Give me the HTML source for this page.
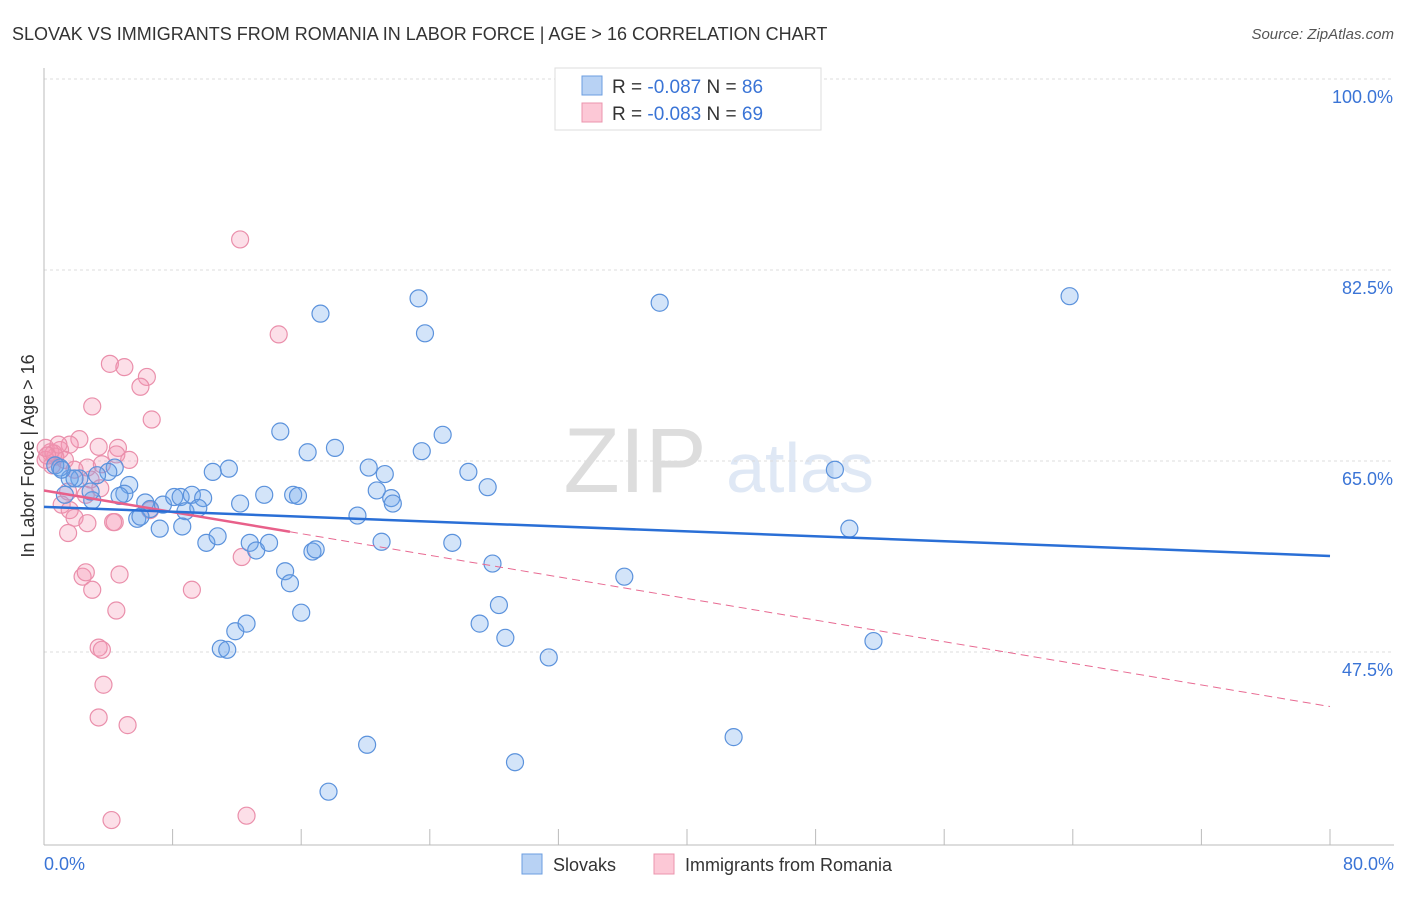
<!DOCTYPE html>
<html><head><meta charset="utf-8"><style>
body{margin:0;background:#fff;font-family:"Liberation Sans",sans-serif}
svg text{font-family:"Liberation Sans",sans-serif}
</style></head><body>
<svg id="c" width="1406" height="892" xmlns="http://www.w3.org/2000/svg">
<text x="12" y="40" font-size="18" fill="#333">SLOVAK VS IMMIGRANTS FROM ROMANIA IN LABOR FORCE | AGE &gt; 16 CORRELATION CHART</text>
<text x="1394" y="39" font-size="15" fill="#555" font-style="italic" text-anchor="end">Source: ZipAtlas.com</text>
<text x="635" y="492" font-size="92" fill="#ddd" font-family="Liberation Serif" text-anchor="middle">ZIP</text>
<text x="800" y="492" font-size="70" fill="#dfe8f5" text-anchor="middle">atlas</text>
<g id="grid"></g><g id="axes"></g><g id="marks"></g>
<text transform="translate(34,456) rotate(-90)" font-size="18" fill="#333" text-anchor="middle">In Labor Force | Age &gt; 16</text>
<text x="44" y="870" font-size="18" fill="#3a74d6">0.0%</text>
<text x="1394" y="870" font-size="18" fill="#3a74d6" text-anchor="end">80.0%</text>
<g>
<rect x="555" y="68" width="266" height="62" fill="#fff" stroke="#ddd"/>
<rect x="582" y="76" width="20" height="19" fill="#b8d2f4" stroke="#6b9ee0"/>
<rect x="582" y="103" width="20" height="19" fill="#fcc8d6" stroke="#eb94ad"/>
<text x="612" y="93" font-size="19" fill="#333">R = <tspan fill="#3a74d6">-0.087</tspan>   N = <tspan fill="#3a74d6">86</tspan></text>
<text x="612" y="120" font-size="19" fill="#333">R = <tspan fill="#3a74d6">-0.083</tspan>   N = <tspan fill="#3a74d6">69</tspan></text>
</g>
<g>
<rect x="522" y="854" width="20" height="20" fill="#b8d2f4" stroke="#6b9ee0"/>
<text x="553" y="871" font-size="18" fill="#333">Slovaks</text>
<rect x="654" y="854" width="20" height="20" fill="#fcc8d6" stroke="#eb94ad"/>
<text x="685" y="871" font-size="18" fill="#333">Immigrants from Romania</text>
</g>
</svg>
<script>
const yTicks=[100,82.5,65,47.5];
const yTickLabels=["100.0%","82.5%","65.0%","47.5%"];
const xTicks=[0,8,16,24,32,40,48,56,64,72,80];
const blueX=[63.8,38.3,23.3,17.2,23.7,14.7,18.1,16.4,23.5,24.8,20.2,21.2,26.4,27.6,11.5,10.5,49.2,4.4,4.0,3.3,2.2,1.6,1.0,0.7,5.3,5.0,4.7,3.0,2.9,6.3,6.6,7.4,8.1,8.5,9.2,9.9,8.8,9.6,12.2,13.7,15.5,15.8,20.7,21.6,21.7,7.2,8.6,5.8,6.0,19.5,10.1,10.8,12.8,13.2,14.0,16.7,16.9,21.0,25.4,50.1,27.9,36.1,15.0,15.3,16.0,28.3,27.1,28.7,11.9,12.6,11.0,11.4,31.4,51.6,42.9,20.1,29.3,17.7,1.3,1.9,1.1];
const blueY=[80.1,79.5,79.9,78.5,76.7,67.7,66.2,65.8,65.9,67.4,64.4,63.8,64.0,62.6,64.3,64.0,64.2,64.4,64.0,63.7,63.4,63.4,64.4,64.6,62.8,62.0,61.8,61.4,62.2,61.2,60.6,61.0,61.7,61.7,61.9,61.6,60.4,60.7,61.1,61.9,61.9,61.8,62.3,61.6,61.1,58.8,59.0,59.7,59.9,60.0,57.5,58.1,57.5,56.8,57.5,56.7,56.9,57.6,57.5,58.8,55.6,54.4,54.9,53.8,51.1,51.8,50.1,48.8,49.4,50.1,47.8,47.7,47.0,48.5,39.7,39.0,37.4,34.7,61.9,63.4,64.2];
const pinkX=[12.2,14.6,4.1,5.0,6.4,6.0,3.0,6.7,2.2,4.6,4.5,3.4,1.6,1.0,0.4,0.7,0.1,0.5,1.3,2.7,1.9,2.9,3.5,1.5,2.6,1.1,1.6,1.9,1.5,4.4,6.6,3.6,5.3,2.4,2.6,3.0,4.7,4.5,9.2,12.3,2.7,4.3,3.4,3.6,3.7,3.4,5.2,4.2,12.6,0.6,0.1,0.9,0.2];
const pinkY=[85.3,76.6,73.9,73.6,72.7,71.8,70.0,68.8,67.0,66.2,65.6,66.3,66.5,66.0,65.8,65.4,65.1,64.6,65.1,64.4,64.2,63.3,62.5,62.2,61.9,61.0,60.5,59.8,58.4,59.4,60.5,64.7,65.1,54.4,54.8,53.2,54.6,51.3,53.2,56.2,59.3,59.4,47.9,47.7,44.5,41.5,40.8,32.1,32.5,65.7,66.2,66.5,65.5];
const blueTrend=[60.8,56.3];
const pinkTrend=[62.3,42.5];
const pinkSolidEnd=15.3;
const NS="http://www.w3.org/2000/svg";
const X=v=>44+v*16.075, Y=v=>79+(100-v)*10.914;
function mk(t,a,p){const e=document.createElementNS(NS,t);for(const k in a)e.setAttribute(k,a[k]);document.getElementById(p).appendChild(e);return e;}
yTicks.forEach((t,i)=>{
 const l=mk('line',{x1:44,x2:1394,y1:Y(t),y2:Y(t),stroke:'#ddd','stroke-dasharray':'3,3'},'grid');
 
 
 const tx=mk('text',{x:1393,y:Y(t)+24,'font-size':18,fill:'#3a74d6','text-anchor':'end'},'grid');
 tx.textContent=yTickLabels[i];
 
 
});
const ax=mk('line',{x1:44,x2:44,y1:68,y2:845,stroke:'#bbb'},'axes');


const bx=mk('line',{x1:44,x2:1394,y1:845,y2:845,stroke:'#bbb'},'axes');


xTicks.forEach(t=>{
 const l=mk('line',{x1:X(t),x2:X(t),y1:829,y2:845,stroke:'#bbb'},'axes');
 
 
});
function pts(xs,ys,fill,stroke,name){
 xs.forEach((x,i)=>{
  const c=mk('circle',{cx:X(x),cy:Y(ys[i]),r:8.5,fill:fill,stroke:stroke,'stroke-width':1.2},'marks');
  
  
 });
}
pts(pinkX,pinkY,'rgba(244,150,178,0.3)','#ea8fab','romania-point');
pts(blueX,blueY,'rgba(110,165,235,0.3)','#5b92dc','slovak-point');
const pd=mk('line',{x1:X(pinkSolidEnd),y1:Y(pinkTrend[0]+(pinkTrend[1]-pinkTrend[0])*pinkSolidEnd/80),x2:X(80),y2:Y(pinkTrend[1]),stroke:'#e86a92','stroke-width':1,'stroke-dasharray':'8,5'},'marks');


const ps=mk('line',{x1:X(0),y1:Y(pinkTrend[0]),x2:X(pinkSolidEnd),y2:Y(pinkTrend[0]+(pinkTrend[1]-pinkTrend[0])*pinkSolidEnd/80),stroke:'#e8608a','stroke-width':2.5},'marks');


const bl=mk('line',{x1:X(0),y1:Y(blueTrend[0]),x2:X(80),y2:Y(blueTrend[1]),stroke:'#2a6fd6','stroke-width':2.5},'marks');


</script>
</body></html>
